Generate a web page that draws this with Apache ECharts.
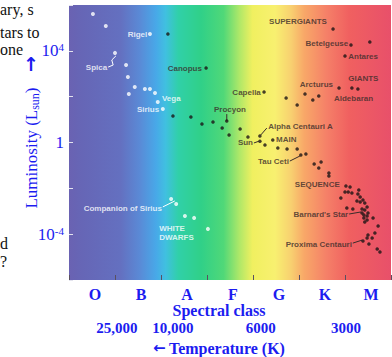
<!DOCTYPE html>
<html><head><meta charset="utf-8">
<script src="https://cdn.jsdelivr.net/npm/echarts@6/dist/echarts.min.js"></script>
<style>html,body{margin:0;padding:0;background:#fff;overflow:hidden}#c{width:392px;height:357px}</style>
</head><body><div id="c"></div>
<script>
// Spectral classes (category axis) and luminosity tick labels (log10 L)
const spectralClasses = ['O','B','A','F','G','K','M'];
const lumTickValues = [4, 0, -4];
const lumTickBase = ['10', '1', '10'];
const lumTickExp = ['4', '', '-4'];
// Temperature labels and their position along the spectral axis (0 = start of O, 7 = end of M)
const tempLabels = ['25,000', '10,000', '6000', '3000'];
const tempPositions = [1.04, 2.26, 4.17, 6.02];

// Stars: [spectral position, log10 luminosity]
const whiteStars = [
  [0.52,5.61],[0.80,5.08],[1.76,4.73],[1.00,3.91],[1.24,3.38],[1.28,2.86],[1.30,2.12],
  [1.43,2.42],[1.65,2.33],[1.76,2.33],[1.87,2.16],[1.93,1.77],[2.04,1.46],
  [2.22,-2.47],[2.33,-2.68],[2.52,-3.21],[2.72,-3.29],[3.02,-3.77]
];
const blackStars = [
  [2.15,4.73],[2.98,3.25],[5.74,4.95],[6.13,4.25],[6.54,4.39],[6.00,3.77],
  [4.24,2.20],[5.87,2.38],[6.15,2.38],[6.28,2.33],[4.72,1.94],[5.13,2.12],[5.30,1.85],[5.43,2.03],[4.96,1.64],
  [2.26,1.16],[2.65,1.11],[2.89,0.81],[3.13,0.89],[3.33,0.63],[3.43,0.94],[3.48,0.33],[3.72,0.59],
  [3.89,0.24],[4.15,0.28],[4.15,0.05],[4.26,-0.11],[4.43,0.11],[4.54,-0.24],[4.74,-0.28],[4.96,-0.28],
  [5.04,-0.55],[5.15,-0.50],[5.33,-0.94],[5.48,-0.85],[5.43,-1.11],[5.65,-1.33],[5.65,-1.46],
  [6.02,-1.90],[6.11,-1.94],[6.00,-2.16],[6.07,-2.16],[6.15,-2.20],[5.91,-2.42],[6.30,-2.07],[6.28,-2.25],
  [6.33,-2.38],[6.39,-2.51],[6.26,-2.55],[6.33,-2.60],[6.43,-2.64],
  [6.04,-2.86],[6.17,-2.90],[6.37,-2.90],[6.43,-2.95],[6.48,-2.81],[6.37,-3.08],[6.41,-3.16],[6.48,-3.21],
  [6.41,-3.29],[6.48,-3.38],[6.43,-3.47],[6.50,-3.08],
  [6.61,-3.29],[6.72,-3.64],[6.65,-3.95],[6.50,-4.04],[6.48,-4.17],[6.59,-4.17],[6.39,-4.30],
  [6.52,-4.43],[6.70,-4.65],[6.76,-4.78]
];

// Annotation texts with their anchor (spectral position, log10 L)
const whiteLabelNames = ['Rigel','Spica','Vega','Sirius','Companion of Sirius','WHITE\nDWARFS'];
const whiteLabelX = [1.70, 0.83, 2.02, 1.96, 2.02, 1.96];
const whiteLabelY = [4.73, 3.29, 1.94, 1.46, -2.90, -3.93];
const darkLabelNames = ['Canopus','Procyon','Capella','SUPERGIANTS','Betelgeuse','Antares','GIANTS','Arcturus',
  'Aldebaran','Alpha Centauri A','Sun','MAIN','Tau Ceti','SEQUENCE',"Barnard's Star",'Proxima Centauri'];
const darkLabelX = [2.89, 3.50, 4.17, 4.35, 6.07, 6.07, 6.07, 5.74, 5.76, 4.33, 4.00, 4.50, 4.78, 4.91, 6.07, 6.15];
const darkLabelY = [3.25, 1.42, 2.20, 5.30, 4.30, 3.77, 2.81, 2.51, 1.94, 0.68, -0.02, 0.11, -0.85, -1.85, -3.16, -4.43];

// Leader lines from labels to stars
const whiteLeaders = [
  [[0.85,3.29],[0.96,3.38],[0.93,3.60],[1.02,3.78]],
  [[2.04,-2.81],[2.30,-2.55]]
];
const darkLeaders = [
  [[3.43,0.94],[3.43,1.24]],
  [[4.17,0.33],[4.30,0.63]],
  [[4.02,-0.02],[4.12,0.05]],
  [[4.80,-0.81],[5.02,-0.59]],
  [[6.09,-3.12],[6.35,-3.03]],
  [[6.17,-4.39],[6.37,-4.26]]
];

const alignRight = {'Rigel':1,'Spica':1,'Sirius':1,'Companion of Sirius':1,'Canopus':1,'Capella':1,'Betelgeuse':1,
  'Arcturus':1,'Sun':1,'Tau Ceti':1,"Barnard's Star":1,'Proxima Centauri':1};
const alignCenter = {'Procyon':1};

const BLUE = '#1c1cf0';
const DARK = '#3a2c2a';
const SERIF = '"Liberation Serif","Times New Roman",serif';
const SANS = '"Liberation Sans",Arial,sans-serif';
const ARROWFONT = '"DejaVu Sans",sans-serif';

function labelData(names, xs, ys) {
  return names.map((n, i) => ({
    name: n, value: [xs[i], ys[i]],
    label: { align: alignRight[n] ? 'right' : (alignCenter[n] ? 'center' : 'left') }
  }));
}

const chart = echarts.init(document.getElementById('c'), null, {renderer: 'svg'});
const bg = new echarts.graphic.LinearGradient(0, 0, 1, 0, [
  {offset: 0.00, color: '#6a62b2'},
  {offset: 0.04, color: '#6666b6'},
  {offset: 0.16, color: '#6470c0'},
  {offset: 0.22, color: '#5a8ad6'},
  {offset: 0.27, color: '#48a8e8'},
  {offset: 0.30, color: '#40c0e0'},
  {offset: 0.34, color: '#30d0a8'},
  {offset: 0.41, color: '#30d088'},
  {offset: 0.48, color: '#50d878'},
  {offset: 0.53, color: '#b0e868'},
  {offset: 0.57, color: '#f0f060'},
  {offset: 0.64, color: '#f8f070'},
  {offset: 0.69, color: '#f8d070'},
  {offset: 0.73, color: '#f8a868'},
  {offset: 0.80, color: '#f58068'},
  {offset: 0.87, color: '#f06060'},
  {offset: 1.00, color: '#e8506a'}
]);

const option = {
  animation: false,
  backgroundColor: '#ffffff',
  grid: {left: 69, top: 5, width: 322, height: 275, show: true, backgroundColor: bg, borderWidth: 0},
  xAxis: [
    {type: 'value', min: 0, max: 7, interval: 1, position: 'bottom',
     axisLine: {show: false, onZero: false}, splitLine: {show: false}, axisLabel: {show: false},
     axisTick: {show: true, inside: true, length: 5, lineStyle: {color: '#5a5060', width: 1}}},
    {type: 'category', data: spectralClasses, position: 'bottom', boundaryGap: true,
     axisLine: {show: false, onZero: false}, axisTick: {show: false}, splitLine: {show: false},
     axisLabel: {margin: 8, color: BLUE, fontFamily: SERIF, fontWeight: 'bold', fontSize: 16,
                 lineHeight: 12, padding: [0, 0, 0, 6]}}
  ],
  yAxis: {
    type: 'value', min: -6, max: 6, interval: 2,
    axisLine: {show: false, onZero: false}, splitLine: {show: false},
    axisTick: {show: true, inside: true, length: 4, lineStyle: {color: '#e4e4ee', width: 1}},
    axisLabel: {
      margin: 5, color: BLUE,
      formatter: function (v) {
        const i = lumTickValues.indexOf(v);
        if (i < 0) return '';
        return '{b|' + lumTickBase[i] + '}' + (lumTickExp[i] ? '{e|' + lumTickExp[i] + '}' : '');
      },
      rich: {
        b: {fontFamily: SERIF, fontSize: 17, color: BLUE, lineHeight: 18},
        e: {fontFamily: SERIF, fontSize: 11, color: BLUE, lineHeight: 11, verticalAlign: 'top'}
      }
    }
  },
  series: [
    {type: 'lines', coordinateSystem: 'cartesian2d', polyline: true, silent: true, z: 3,
     lineStyle: {color: '#ffffff', width: 1, opacity: 1}, data: whiteLeaders.map(c => ({coords: c}))},
    {type: 'lines', coordinateSystem: 'cartesian2d', polyline: true, silent: true, z: 3,
     lineStyle: {color: DARK, width: 1, opacity: 1}, data: darkLeaders.map(c => ({coords: c}))},
    {type: 'scatter', data: whiteStars, symbolSize: 4, z: 4,
     itemStyle: {color: '#ffffff'}},
    {type: 'scatter', data: blackStars, symbolSize: 3.5, z: 4,
     itemStyle: {color: '#1c1414'}},
    {type: 'scatter', data: labelData(whiteLabelNames, whiteLabelX, whiteLabelY), symbolSize: 0, z: 5,
     label: {show: true, position: 'inside', formatter: '{b}', color: '#ffffff', fontFamily: SANS,
             fontWeight: 'bold', fontSize: 8, lineHeight: 9, verticalAlign: 'middle'}},
    {type: 'scatter', data: labelData(darkLabelNames, darkLabelX, darkLabelY), symbolSize: 0, z: 5,
     label: {show: true, position: 'inside', formatter: '{b}', color: DARK, fontFamily: SANS,
             fontWeight: 'bold', fontSize: 8, lineHeight: 9, verticalAlign: 'middle'}}
  ]
};
chart.setOption(option);

const graphics = [];
tempLabels.forEach((t, i) => {
  const px = chart.convertToPixel({xAxisIndex: 0}, tempPositions[i]);
  graphics.push({type: 'text', x: px, y: 328, style: {text: t, fill: BLUE, font: 'bold 15px ' + SERIF,
    lineHeight: 13, align: 'center', verticalAlign: 'middle'}});
});
graphics.push({type: 'text', x: 219, y: 310, style: {text: 'Spectral class', fill: BLUE,
  font: 'bold 16px ' + SERIF, lineHeight: 14, align: 'center', verticalAlign: 'middle'}});
graphics.push({type: 'text', x: 219, y: 348, style: {
  text: '{a|\u2190} {t|Temperature (K)}', align: 'center', verticalAlign: 'middle',
  rich: {
    a: {fontFamily: ARROWFONT, fontWeight: 'bold', fontSize: 15, fill: BLUE, lineHeight: 14},
    t: {fontFamily: SERIF, fontWeight: 'bold', fontSize: 16, fill: BLUE, lineHeight: 14}
  }}});
graphics.push({type: 'text', x: 31, y: 148, rotation: Math.PI / 2, style: {
  text: '{n|Luminosity (L}{s|sun}{n|)}', align: 'center', verticalAlign: 'middle',
  rich: {
    n: {fontFamily: SERIF, fontSize: 17, fill: BLUE, lineHeight: 20},
    s: {fontFamily: SERIF, fontSize: 12, fill: BLUE, lineHeight: 12, verticalAlign: 'bottom'}
  }}});
graphics.push({type: 'text', x: 31, y: 64, style: {text: '\u2191', fill: BLUE,
  font: 'bold 19px ' + ARROWFONT, lineHeight: 14, align: 'center', verticalAlign: 'middle'}});
// surrounding page text (cut off at the left edge)
const pageLines = [['ary, s', 9], ['tars to', 32], ['one', 49], ['d', 243], ['?', 261]];
pageLines.forEach(l => graphics.push({type: 'text', x: 0, y: l[1], style: {text: l[0], fill: '#111',
  font: '16px ' + SERIF, lineHeight: 14, align: 'left', verticalAlign: 'middle'}}));
chart.setOption({graphic: graphics});
</script>
</body></html>
